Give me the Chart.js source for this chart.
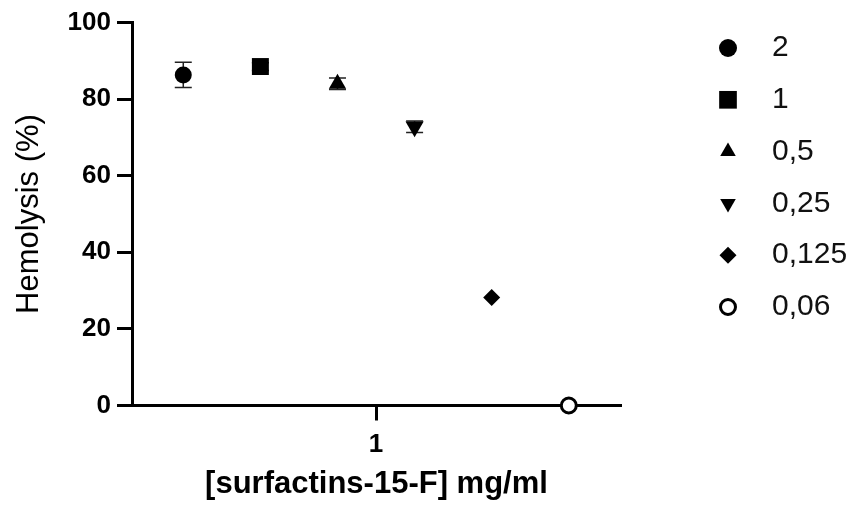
<!DOCTYPE html>
<html>
<head>
<meta charset="utf-8">
<script src="https://cdn.jsdelivr.net/npm/chart.js@4"></script>
<style>
	html, body { margin: 0; padding: 0; background: #fff; }
</style>
</head>
<body>
<canvas id="hemoChart" width="856" height="510"></canvas>
<script>
// concentrations (mg/ml), one series each
var concentrations = ["2", "1", "0,5", "0,25", "0,125", "0,06"];
var hemolysis = [86.3, 88.5, 84.0, 72.8, 28.2, 0];
var errors = [3.3, 1.0, 1.5, 1.5, 0, 0];
var xTickValues = [2.5];
var xTickLabels = ["1"];
var yTickStep = 20;

// marker look for each series
var markers = [
	{ style: "circle", radius: 8.5, rotation: 0, fill: true, legendRadius: 9 },
	{ style: "rect", radius: 12, rotation: 0, fill: true, legendRadius: 12.5 },
	{ style: "triangle", radius: 10, rotation: 0, fill: true, legendRadius: 9 },
	{ style: "triangle", radius: 10.5, rotation: 180, fill: true, legendRadius: 9 },
	{ style: "rectRot", radius: 8.5, rotation: 0, fill: true, legendRadius: 8.5 },
	{ style: "circle", radius: 7.5, rotation: 0, fill: false, legendRadius: 7.5 },
];

var datasets = concentrations.map(function (label, i) {
	var m = markers[i];
	return {
		label: label,
		data: [{ x: i, y: hemolysis[i] }],
		pointStyle: m.style,
		pointRadius: m.radius,
		pointHoverRadius: m.radius,
		pointRotation: m.rotation,
		backgroundColor: m.fill ? "#000" : "#fff",
		borderColor: "#000",
		borderWidth: m.fill ? 0 : 3,
		showLine: false,
		clip: false,
	};
});

// error bars drawn behind the symbols
var errorBars = {
	id: "errorBars",
	beforeDatasetsDraw: function (chart) {
		var ctx = chart.ctx;
		var yScale = chart.scales.y;
		ctx.save();
		ctx.strokeStyle = "#222";
		ctx.lineWidth = 1.5;
		chart.data.datasets.forEach(function (ds, i) {
			if (!errors[i]) return;
			var pt = chart.getDatasetMeta(i).data[0];
			var top = yScale.getPixelForValue(hemolysis[i] + errors[i]);
			var bot = yScale.getPixelForValue(hemolysis[i] - errors[i]);
			ctx.beginPath();
			ctx.moveTo(pt.x, top);
			ctx.lineTo(pt.x, bot);
			ctx.moveTo(pt.x - 8.5, top);
			ctx.lineTo(pt.x + 8.5, top);
			ctx.moveTo(pt.x - 8.5, bot);
			ctx.lineTo(pt.x + 8.5, bot);
			ctx.stroke();
		});
		ctx.restore();
	},
};

// legend on the right, Prism style
var sideLegend = {
	id: "sideLegend",
	afterDraw: function (chart) {
		var ctx = chart.ctx;
		ctx.save();
		chart.data.datasets.forEach(function (ds, i) {
			var m = markers[i];
			var y = 48 + i * 51.8;
			ctx.fillStyle = m.fill ? "#000" : "#fff";
			ctx.strokeStyle = "#000";
			Chart.helpers.drawPoint(ctx, {
				pointStyle: m.style,
				radius: m.legendRadius,
				rotation: m.rotation,
				borderWidth: m.fill ? 0 : 3,
			}, 728, y);
			ctx.fillStyle = "#111";
			ctx.font = "30px 'Liberation Sans', Arial, sans-serif";
			ctx.textBaseline = "middle";
			ctx.textAlign = "left";
			ctx.fillText(ds.label, 772, y);
		});
		ctx.restore();
	},
};

var ctx = document.getElementById("hemoChart").getContext("2d");
var myChart = new Chart(ctx, {
	type: "scatter",
	data: { datasets: datasets },
	plugins: [errorBars, sideLegend],
	options: {
		responsive: false,
		animation: false,
		layout: { padding: { top: 22.5, right: 235, bottom: 0, left: 0 } },
		plugins: {
			legend: { display: false },
			tooltip: { enabled: false },
		},
		scales: {
			x: {
				type: "linear",
				min: -0.665,
				max: 5.677,
				afterBuildTicks: function (scale) {
					scale.ticks = xTickValues.map(function (v) { return { value: v }; });
				},
				afterFit: function (scale) {
					scale.height = 104.5;
				},
				ticks: {
					callback: function (v, i) { return xTickLabels[i]; },
					color: "#000",
					font: { family: "'Liberation Sans', Arial", size: 26, weight: "bold" },
					padding: 9,
					maxRotation: 0,
				},
				grid: {
					drawOnChartArea: false,
					drawTicks: true,
					tickLength: 15,
					tickWidth: 3,
					tickColor: "#000",
				},
				border: { color: "#000", width: 3 },
				title: {
					display: true,
					text: "[surfactins-15-F] mg/ml",
					color: "#000",
					font: { family: "'Liberation Sans', Arial", size: 31, weight: "bold" },
					padding: { top: 0, bottom: 7 },
				},
			},
			y: {
				min: 0,
				max: 100,
				afterFit: function (scale) {
					scale.width = 132;
				},
				ticks: {
					stepSize: yTickStep,
					color: "#000",
					font: { family: "'Liberation Sans', Arial", size: 26, weight: "bold" },
					padding: 6,
				},
				grid: {
					drawOnChartArea: false,
					drawTicks: true,
					tickLength: 15,
					tickWidth: 3,
					tickColor: "#000",
				},
				border: { color: "#000", width: 3 },
				title: {
					display: true,
					text: "Hemolysis (%)",
					color: "#000",
					font: { family: "'Liberation Sans', Arial", size: 31, weight: "normal" },
					padding: { top: 11, bottom: 0 },
				},
			},
		},
	},
});
</script>
</body>
</html>
